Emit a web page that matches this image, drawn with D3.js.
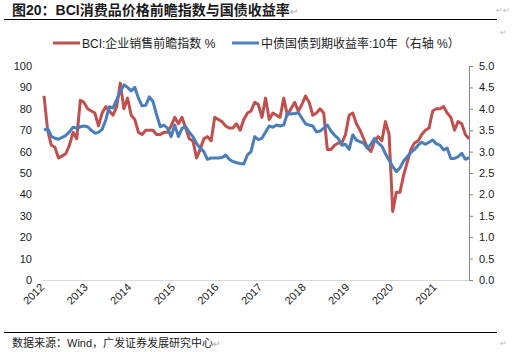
<!DOCTYPE html>
<html>
<head>
<meta charset="utf-8">
<script src="https://cdn.jsdelivr.net/npm/d3@7"></script>
<style>
  body { margin: 0; background: #fff; }
  svg text { font-family: "Liberation Sans", Arial, "Noto Sans CJK SC", sans-serif; }
  .cjk { font-family: "Liberation Sans", "Noto Sans CJK SC", sans-serif; }
</style>
</head>
<body>
<svg id="chart"></svg>
<script>
// monthly data, 2012-01 .. 2021-10
let yearLabels = ["2012","2013","2014","2015","2016","2017","2018","2019","2020","2021"];

let bciValues = [
  86,70,63,62,57,58,59,63,69,66,84,83,
  80,79,78,72,78,81,79,77,81,92,80,85,
  77,75,69,68,70,70,70,68,68,69,69,72,
  76,73,76,71,66,65,57,61,66,67,65,76,
  75,74,72,71,71,73,70,75,78,79,83,82,
  76,85,75,78,77,76,85,77,80,83,79,82,
  86,83,77,78,80,78,61,61,63,64,64,68,
  77,78,73,70,66,62,60,65,67,65,74,68,
  32,41,41,49,55,61,64,65,68,70,71,79,
  80,80,81,78,76,70,74,73,68,66
];

let yieldValues = [
  3.50,3.54,3.36,3.31,3.29,3.33,3.38,3.46,3.57,3.55,3.58,3.60,
  3.58,3.50,3.43,3.45,3.52,3.74,4.05,4.02,4.21,4.40,4.56,4.50,
  4.42,4.50,4.25,4.07,4.08,4.28,4.17,3.86,3.58,3.62,3.55,3.35,
  3.62,3.35,3.55,3.58,3.45,3.35,3.19,3.08,3.00,2.82,2.85,2.85,
  2.85,2.86,2.92,2.82,2.77,2.74,2.72,2.71,2.92,3.00,3.35,3.28,
  3.31,3.46,3.60,3.57,3.62,3.60,3.62,3.89,3.88,3.89,3.91,3.78,
  3.65,3.62,3.60,3.46,3.48,3.55,3.62,3.48,3.38,3.31,3.15,3.17,
  3.05,3.39,3.27,3.23,3.20,3.08,3.17,3.31,3.20,3.13,2.95,2.80,
  2.65,2.53,2.62,2.78,2.88,2.98,3.05,3.15,3.22,3.17,3.22,3.27,
  3.18,3.15,3.04,3.08,2.84,2.84,2.88,2.96,2.82,2.86
];

let leftTicks = [0,10,20,30,40,50,60,70,80,90,100];
let rightTicks = [0,0.5,1,1.5,2,2.5,3,3.5,4,4.5,5];

let w = 513, h = 352;
let svg = d3.select("#chart").attr("width", w).attr("height", h);

let x = d3.scaleLinear().domain([0, bciValues.length - 1]).range([44, 469]);
let yL = d3.scaleLinear().domain([0, 100]).range([280, 66]);
let yR = d3.scaleLinear().domain([0, 5]).range([280, 66]);

// title
svg.append("text")
  .attr("class", "cjk")
  .attr("x", 12).attr("y", 15)
  .attr("font-size", 14).attr("font-weight", "bold")
  .attr("fill", "#1a1a1a")
  .text("图20：BCI消费品价格前瞻指数与国债收益率")
  .append("tspan").attr("fill", "#aaa").attr("font-weight", "normal").attr("font-size", 10).text("↵");

svg.append("line").attr("x1", 4).attr("x2", 497).attr("y1", 19.5).attr("y2", 19.5)
  .attr("stroke", "#000").attr("stroke-width", 1);
svg.append("line").attr("x1", 4).attr("x2", 497).attr("y1", 332.5).attr("y2", 332.5)
  .attr("stroke", "#000").attr("stroke-width", 1);

svg.append("text").attr("x", 496).attr("y", 13).attr("font-size", 8).attr("fill", "#bbb").text("↵↵");
svg.append("text").attr("x", 500).attr("y", 35).attr("font-size", 8).attr("fill", "#bbb").text("↵");
svg.append("text").attr("x", 500).attr("y", 346).attr("font-size", 8).attr("fill", "#bbb").text("↵");

// footer
svg.append("text")
  .attr("class", "cjk")
  .attr("x", 12).attr("y", 347)
  .attr("font-size", 11).attr("fill", "#1a1a1a")
  .text("数据来源：Wind，广发证券发展研究中心")
  .append("tspan").attr("fill", "#aaa").attr("font-size", 9).text("↵");

// legend
let legend = [
  {name: "BCI:企业销售前瞻指数 %", color: "#C0504D", x: 53},
  {name: "中债国债到期收益率:10年（右轴 %）", color: "#4F81BD", x: 232}
];
legend.forEach(d => {
  svg.append("line").attr("x1", d.x).attr("x2", d.x + 27).attr("y1", 43).attr("y2", 43)
    .attr("stroke", d.color).attr("stroke-width", 3);
  svg.append("text").attr("class", "cjk").attr("x", d.x + 29).attr("y", 47.5)
    .attr("font-size", 12).attr("fill", "#1a1a1a").text(d.name);
});

// left axis labels
svg.append("g").selectAll("text").data(leftTicks).enter().append("text")
  .attr("x", 32).attr("y", d => yL(d) + 4)
  .attr("text-anchor", "end").attr("font-size", 11).attr("fill", "#1a1a1a")
  .text(d => d);

// right axis
let rightAxis = d3.axisRight(yR).tickValues(rightTicks).tickSize(4).tickPadding(6)
  .tickFormat(d3.format(".1f"));
let gR = svg.append("g").attr("transform", "translate(469,0)").call(rightAxis);
gR.select(".domain").attr("stroke", "#868686");
gR.selectAll(".tick line").attr("stroke", "#868686");
gR.selectAll(".tick text").attr("font-size", 11).attr("fill", "#1a1a1a")
  .attr("font-family", "Liberation Sans, Arial, sans-serif");

// bottom axis
svg.append("line").attr("x1", 43).attr("x2", 469).attr("y1", 280.5).attr("y2", 280.5)
  .attr("stroke", "#d9d9d9").attr("stroke-width", 1);

svg.append("g").selectAll("text").data(yearLabels).enter().append("text")
  .attr("transform", (d, i) => `translate(${x(i * 12) + 1},${288}) rotate(-45)`)
  .attr("text-anchor", "end").attr("font-size", 11).attr("fill", "#1a1a1a")
  .text(d => d);

// lines
let lineL = d3.line().x((d, i) => x(i)).y(d => yL(d));
let lineR = d3.line().x((d, i) => x(i)).y(d => yR(d));

svg.append("path").datum(bciValues).attr("d", lineL)
  .attr("fill", "none").attr("stroke", "#C0504D").attr("stroke-width", 3)
  .attr("stroke-linejoin", "round");
svg.append("path").datum(yieldValues).attr("d", lineR)
  .attr("fill", "none").attr("stroke", "#4A7EBB").attr("stroke-width", 3)
  .attr("stroke-linejoin", "round");
</script>
</body>
</html>
